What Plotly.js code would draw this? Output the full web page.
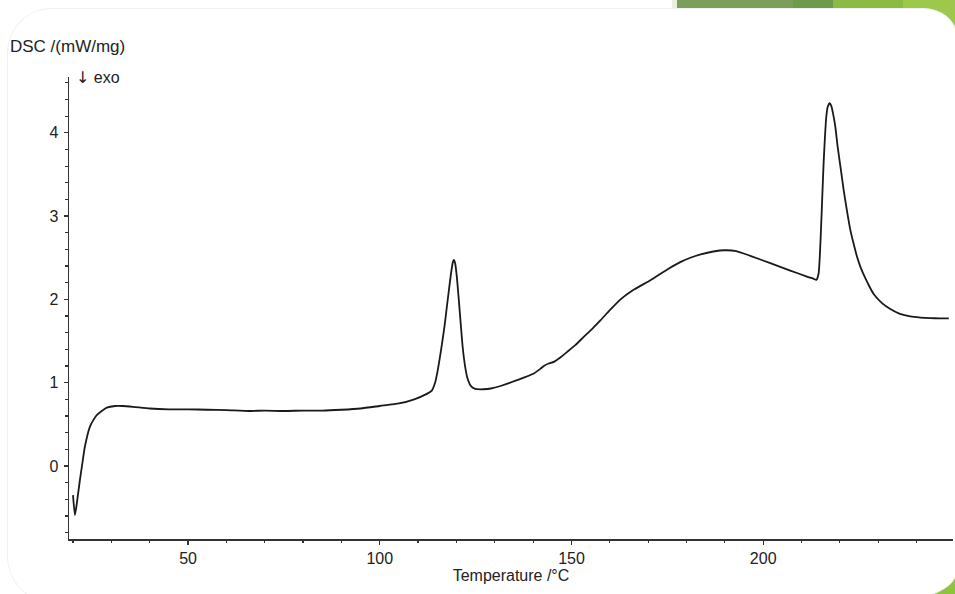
<!DOCTYPE html>
<html>
<head>
<meta charset="utf-8">
<script src="https://cdn.plot.ly/plotly-3.0.1.min.js"></script>
<style>
html, body { margin: 0; padding: 0; width: 955px; height: 594px; overflow: hidden; background: #ffffff; }
#bgTop { position: absolute; left: 672px; top: 0; width: 283px; height: 60px;
  background: linear-gradient(to right, #e8f0dc 0px, #e8f0dc 5px, #7b9f5b 5px, #7b9f5b 121px, #6e9a4b 121px, #6e9a4b 161px, #8cbb45 161px, #8cbb45 231px, #9dc84c 231px); }
#bgBot { position: absolute; left: 860px; top: 540px; width: 95px; height: 54px; background: #8dc33f; }
#panel { position: absolute; left: 7px; top: 8px; width: 950px; height: 596px; background: #ffffff;
  border: 1px solid #f1f1f1; box-sizing: border-box;
  border-top-left-radius: 45px; border-top-right-radius: 34px 28px;
  border-bottom-right-radius: 80px 33px; border-bottom-left-radius: 48px; }
#chart { position: absolute; left: 0; top: 0; width: 955px; height: 594px; }
</style>
</head>
<body>
<div id="bgTop"></div>
<div id="bgBot"></div>
<div id="panel"></div>
<div id="chart"></div>
<script>
// Temperature in °C
var temperature = [
  20.0, 20.5, 21.0, 21.8, 22.5, 23.1, 24.4, 25.3, 26.2, 27.5, 28.8, 31, 33, 35.7, 40, 45, 50, 55, 60, 66,
  70, 75, 80, 85, 90, 95, 100, 105, 109, 112.27, 113.58, 114.45, 115.06, 115.58, 116.19, 116.88, 117.49, 118.1, 118.62, 119.06,
  119.32, 119.66, 120.1, 120.62, 121.14, 121.66, 122.27, 122.88, 123.75, 124.88, 127.05, 129, 131.5, 135.8, 140.2, 142, 142.8,
  144, 145.4, 147, 148.9, 151, 153.2, 155.5, 157.6, 160, 162.8, 166, 170.6, 175, 178.5, 181, 183.7, 187, 190, 193, 196.63,
  201.85, 207.06, 211.41, 213.2, 213.85, 214.46, 215.07, 215.41, 215.76, 216.11, 216.46, 216.8, 217.33, 217.76, 218.2, 218.8, 219.41,
  220.2, 220.98, 221.85, 222.72, 223.59, 224.46, 225.33, 226.63, 227.94, 228.81, 230.98, 233.15, 235.5, 238.37, 241, 243.6, 246, 248.4
];
// DSC signal in mW/mg
var dsc = [
  -0.35, -0.59, -0.45, -0.17, 0.05, 0.23, 0.47, 0.55, 0.61, 0.66, 0.70, 0.72, 0.72, 0.71, 0.69, 0.68, 0.68, 0.675, 0.67, 0.66,
  0.665, 0.66, 0.665, 0.665, 0.675, 0.69, 0.72, 0.75, 0.80, 0.865, 0.905, 1.001, 1.133, 1.273, 1.453, 1.674, 1.906, 2.134, 2.322, 2.446,
  2.474, 2.434, 2.274, 1.994, 1.694, 1.413, 1.193, 1.053, 0.961, 0.925, 0.921, 0.93, 0.96, 1.03, 1.11, 1.17, 1.20,
  1.23, 1.25, 1.30, 1.37, 1.45, 1.55, 1.65, 1.75, 1.87, 2.00, 2.11, 2.23, 2.36, 2.45, 2.50, 2.54, 2.575, 2.59, 2.58, 2.523,
  2.435, 2.346, 2.274, 2.246, 2.234, 2.314, 2.835, 3.235, 3.636, 3.956, 4.196, 4.308, 4.357, 4.324, 4.236, 4.076, 3.836,
  3.576, 3.315, 3.063, 2.835, 2.667, 2.514, 2.394, 2.254, 2.134, 2.065, 1.955, 1.885, 1.83, 1.795, 1.782, 1.775, 1.772, 1.772
];
var xTickVals = [50, 100, 150, 200];
var yTickVals = [0, 1, 2, 3, 4];
var yAxisLabel = "DSC /(mW/mg)";
var exoLabel = "<span style=\"font-family:'DejaVu Sans'\">\u2193</span> exo";
var xAxisLabel = "Temperature /\u00B0C";

var textColor = "#222222";
var trace = {
  x: temperature, y: dsc, type: "scatter", mode: "lines",
  line: { color: "#1a1a1a", width: 1.8, shape: "spline", smoothing: 0.5 },
  hoverinfo: "skip"
};
var layout = {
  width: 955, height: 594,
  margin: { l: 69, r: 2, t: 77, b: 55 },
  paper_bgcolor: "rgba(0,0,0,0)", plot_bgcolor: "rgba(0,0,0,0)",
  showlegend: false,
  font: { family: "Liberation Sans, Arial, sans-serif", size: 16, color: textColor },
  xaxis: {
    range: [18.96, 249.5], tickvals: xTickVals, ticks: "outside", ticklen: 4, tickwidth: 1.2, tickcolor: "#333",
    showline: true, linecolor: "#333", linewidth: 1.5, showgrid: false, zeroline: false,
    minor: { ticks: "outside", ticklen: 2, tickwidth: 1.2, tickcolor: "#333", dtick: 10, tick0: 0, showgrid: false },
    tickfont: { size: 16, color: textColor },
    title: { text: xAxisLabel, font: { size: 16, color: textColor }, standoff: 2 }
  },
  yaxis: {
    range: [-0.877, 4.67], tickvals: yTickVals, ticks: "outside", ticklen: 4, tickwidth: 1.2, tickcolor: "#333",
    showline: true, linecolor: "#333", linewidth: 1.5, showgrid: false, zeroline: false,
    minor: { ticks: "outside", ticklen: 3, tickwidth: 1.2, tickcolor: "#333", dtick: 0.2, tick0: 0, showgrid: false },
    tickfont: { size: 16, color: textColor }, ticklabelstandoff: 2
  },
  annotations: [
    { text: yAxisLabel, xref: "paper", yref: "paper", x: (8 - 69) / 884, y: (539 - 46) / 462,
      xanchor: "left", yanchor: "middle", showarrow: false, font: { size: 17, color: textColor } },
    { text: exoLabel, xref: "paper", yref: "paper", x: (74 - 69) / 884, y: (539 - 78) / 462,
      xanchor: "left", yanchor: "middle", showarrow: false, font: { size: 16, color: textColor } }
  ]
};
Plotly.newPlot("chart", [trace], layout, { displayModeBar: false, staticPlot: true });
</script>
</body>
</html>
